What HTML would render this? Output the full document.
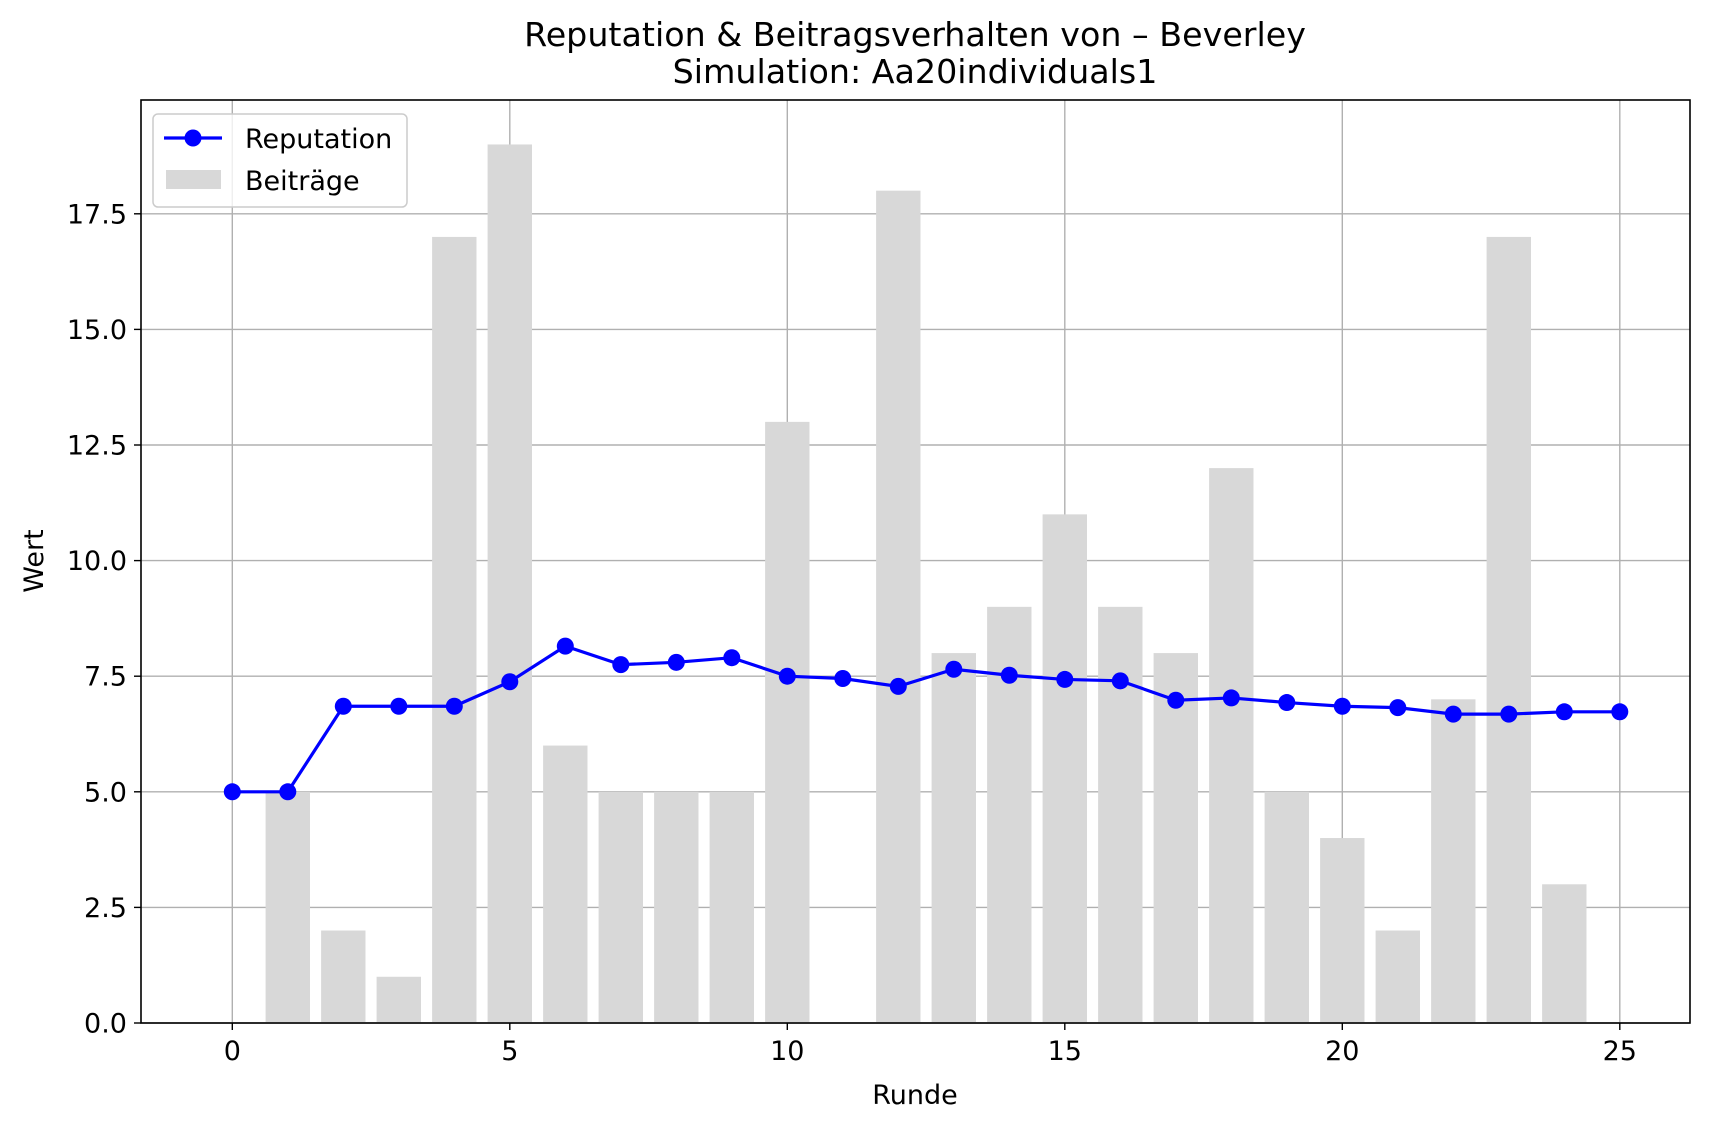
<!DOCTYPE html>
<html><head><meta charset="utf-8"><style>
body{margin:0;background:#fff;}
svg text{font-family:"DejaVu Sans","Liberation Sans",sans-serif;fill:#000;}
</style></head><body>
<svg id="chart" width="1710" height="1131" viewBox="0 0 1710 1131" xmlns="http://www.w3.org/2000/svg">
<text x="915" y="46" font-size="33.3" text-anchor="middle">Reputation &amp; Beitragsverhalten von – Beverley</text>
<text x="915" y="83" font-size="33.3" text-anchor="middle">Simulation: Aa20individuals1</text>
<g id="grid"></g><g id="bars"></g><g id="line"></g><g id="axes"></g>
<rect x="141" y="100" width="1549" height="923" fill="none" stroke="#000" stroke-width="1.6"/>
<text x="915" y="1104" font-size="27" text-anchor="middle">Runde</text>
<text transform="translate(43,561) rotate(-90)" font-size="27" text-anchor="middle">Wert</text>
<g>
<rect x="153" y="114" width="254" height="93" rx="5" fill="#fff" fill-opacity="0.8" stroke="#ccc" stroke-width="1.5"/>
<line x1="164" y1="138" x2="222" y2="138" stroke="#0000ff" stroke-width="3.2"/>
<circle cx="193" cy="138" r="8.5" fill="#0000ff"/>
<text x="245" y="148" font-size="27">Reputation</text>
<rect x="166" y="170" width="55" height="19" fill="#d8d8d8"/>
<text x="245" y="190" font-size="27">Beiträge</text>
</g>
</svg>
<script>
const rounds=[0,1,2,3,4,5,6,7,8,9,10,11,12,13,14,15,16,17,18,19,20,21,22,23,24,25];
const reputation=[5,5,6.85,6.85,6.85,7.38,8.15,7.75,7.8,7.9,7.5,7.45,7.28,7.65,7.52,7.43,7.4,6.98,7.03,6.93,6.85,6.82,6.68,6.68,6.73,6.73];
const barRounds=[1,2,3,4,5,6,7,8,9,10,11,12,13,14,15,16,17,18,19,20,21,22,23,24];
const contributions=[5,2,1,17,19,6,5,5,5,13,0,18,8,9,11,9,8,12,5,4,2,7,17,3];
const xTicks=[0,5,10,15,20,25];
const yTicks=[0,2.5,5,7.5,10,12.5,15,17.5];
const yTickLabels=["0.0","2.5","5.0","7.5","10.0","12.5","15.0","17.5"];
const NS="http://www.w3.org/2000/svg";
const X=v=>232.3+v*55.5;
const Y=v=>1023-v*46.24;
function mk(tag,attrs,parent){const e=document.createElementNS(NS,tag);for(const k in attrs)e.setAttribute(k,attrs[k]);parent.appendChild(e);return e;}
const grid=document.getElementById('grid'),bars=document.getElementById('bars'),line=document.getElementById('line'),axes=document.getElementById('axes');
xTicks.forEach(t=>{
  const g=mk('line',{x1:X(t),x2:X(t),y1:100,y2:1023,stroke:'#b0b0b0','stroke-width':1.4},grid);
  
  
  const tk=mk('line',{x1:X(t),x2:X(t),y1:1023,y2:1030,stroke:'#000','stroke-width':1.4},axes);
  
  
  const tx=mk('text',{x:X(t),y:1060,'font-size':27,'text-anchor':'middle'},axes);
  tx.textContent=t;
  
  
});
yTicks.forEach((t,i)=>{
  const g=mk('line',{x1:141,x2:1690,y1:Y(t),y2:Y(t),stroke:'#b0b0b0','stroke-width':1.4},grid);
  
  
  const tk=mk('line',{x1:134,x2:141,y1:Y(t),y2:Y(t),stroke:'#000','stroke-width':1.4},axes);
  
  
  const tx=mk('text',{x:127,y:Y(t)+9.5,'font-size':27,'text-anchor':'end'},axes);
  tx.textContent=yTickLabels[i];
  
  
});
barRounds.forEach((r,i)=>{
  const v=contributions[i];
  const b=mk('rect',{x:X(r-0.4),y:Y(v),width:X(r+0.4)-X(r-0.4),height:Y(0)-Y(v),fill:'#d8d8d8'},bars);
  
  
});
const pl=mk('polyline',{points:rounds.map((r,i)=>X(r)+','+Y(reputation[i])).join(' '),fill:'none',stroke:'#0000ff','stroke-width':3.2},line);


rounds.forEach((r,i)=>{
  const c=mk('circle',{cx:X(r),cy:Y(reputation[i]),r:8.5,fill:'#0000ff'},line);
  
  
});
</script>
</body></html>
